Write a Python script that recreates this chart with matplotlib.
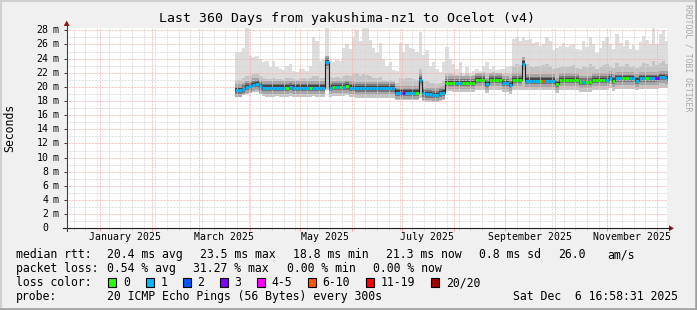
import numpy as np
import matplotlib
matplotlib.use('Agg')
import matplotlib.pyplot as plt
import matplotlib.dates as mdates
from matplotlib.ticker import MultipleLocator
from matplotlib.patches import Rectangle, Polygon
from matplotlib.lines import Line2D
from datetime import datetime

plt.rcParams['font.family'] = ['DejaVu Sans Mono']

W, H = 697, 310

# ---- data (2-day steps from 2025-03-23) ----
first_day = '2025-03-23'
step_days = 2

median_ms = [
    19.5, 19.5, 19.7, 20.0, 20.1, 20.3, 20.4, 20.1, 19.9, 19.9,
    19.9, 19.9, 19.9, 19.9, 19.9, 19.9, 20.0, 19.9, 19.9, 19.9,
    19.9, 19.9, 19.9, 19.9, 19.9, 19.9, 19.9, 23.5, 19.9, 20.0,
    20.0, 20.0, 20.0, 20.1, 19.9, 19.9, 19.8, 19.8, 19.8, 19.8,
    19.8, 19.8, 19.8, 19.8, 19.8, 19.8, 19.8, 19.8, 19.2, 19.2,
    19.2, 19.2, 19.2, 19.2, 19.2, 21.0, 19.1, 19.0, 19.0, 18.9,
    18.9, 19.1, 19.2, 20.6, 20.6, 20.6, 20.6, 20.6, 20.6, 20.6,
    20.6, 20.6, 21.0, 21.0, 21.0, 20.4, 21.0, 21.0, 21.0, 21.0,
    20.6, 20.6, 20.3, 21.0, 21.0, 21.0, 23.3, 20.9, 20.9, 20.9,
    20.9, 20.9, 20.9, 20.9, 20.9, 20.9, 20.4, 21.0, 21.0, 21.0,
    21.0, 21.0, 21.0, 20.7, 20.7, 20.7, 20.7, 21.0, 21.0, 21.0,
    21.0, 21.0, 21.3, 20.9, 21.2, 21.2, 21.2, 21.2, 21.2, 21.2,
    20.9, 21.2, 21.2, 21.2, 21.2, 21.2, 21.2, 21.4, 21.4, 21.3,
]

# lost pings out of 20
loss = [
    1, 1, 1, 1, 1, 1, 1, 1, 1, 1,
    1, 1, 1, 1, 1, 0, 1, 1, 1, 1,
    1, 1, 0, 1, 1, 1, 1, 1, 1, 0,
    1, 0, 1, 0, 1, 1, 1, 1, 1, 1,
    1, 1, 1, 1, 1, 1, 1, 1, 1, 1,
    3, 1, 1, 1, 0, 1, 1, 1, 1, 1,
    1, 1, 1, 0, 0, 0, 1, 1, 0, 0,
    0, 0, 0, 0, 0, 1, 0, 0, 0, 0,
    1, 1, 1, 0, 0, 0, 1, 1, 1, 1,
    1, 0, 6, 1, 1, 1, 0, 0, 0, 0,
    0, 0, 0, 0, 1, 0, 0, 0, 0, 0,
    0, 1, 1, 0, 1, 1, 0, 0, 1, 1,
    1, 1, 1, 0, 1, 1, 3, 1, 1, 1,
]

# fastest ping
low_ms = [
    18.7, 18.7, 18.9, 19.0, 19.1, 19.3, 19.3, 19.0, 18.7, 18.6,
    18.6, 18.6, 18.7, 18.6, 18.6, 18.6, 18.7, 18.6, 18.6, 18.6,
    18.6, 18.6, 18.6, 18.7, 18.6, 18.6, 18.6, 19.6, 18.6, 18.7,
    18.7, 18.7, 18.7, 18.8, 18.6, 18.6, 18.5, 18.5, 18.5, 18.5,
    18.5, 18.5, 18.5, 18.5, 18.5, 18.5, 18.5, 18.5, 18.1, 18.1,
    18.1, 18.1, 18.1, 18.1, 18.1, 18.5, 18.0, 17.9, 17.9, 17.8,
    17.8, 18.0, 18.1, 19.4, 19.4, 19.3, 19.3, 19.3, 19.3, 19.3,
    19.3, 19.3, 19.6, 19.6, 19.6, 19.2, 19.6, 19.6, 19.6, 19.6,
    19.3, 19.3, 19.0, 19.6, 19.6, 19.6, 19.6, 19.5, 19.5, 19.5,
    19.5, 19.5, 19.5, 19.5, 19.5, 19.5, 19.1, 19.6, 19.6, 19.6,
    19.6, 19.6, 19.6, 19.3, 19.3, 19.3, 19.3, 19.6, 19.6, 19.6,
    19.6, 19.6, 19.8, 19.4, 19.7, 19.7, 19.7, 19.7, 19.7, 19.7,
    19.5, 19.7, 19.7, 19.7, 19.7, 19.7, 19.7, 19.9, 19.9, 19.8,
]

# top of the medium smoke
mid_ms = [
    21.0, 21.0, 21.2, 21.5, 21.6, 21.8, 21.8, 21.5, 21.2, 21.1,
    21.1, 21.2, 21.1, 21.1, 21.0, 21.2, 21.3, 21.1, 21.0, 21.1,
    21.2, 21.1, 21.2, 21.6, 21.5, 21.2, 21.3, 24.2, 21.4, 21.3,
    21.4, 21.3, 21.6, 21.7, 21.5, 21.8, 21.9, 21.6, 21.8, 21.7,
    21.5, 21.3, 21.2, 21.4, 21.0, 20.9, 21.0, 20.9, 20.6, 21.2,
    21.1, 21.3, 21.2, 21.1, 21.0, 22.5, 20.8, 20.9, 20.6, 20.5,
    20.4, 20.6, 20.8, 22.0, 21.9, 21.8, 21.7, 21.9, 21.6, 21.8,
    21.6, 21.7, 22.0, 21.9, 22.1, 22.0, 22.0, 22.1, 21.9, 22.0,
    21.8, 21.9, 21.8, 23.0, 23.3, 23.1, 24.0, 23.2, 23.0, 22.8,
    22.9, 23.0, 23.1, 23.2, 22.9, 22.6, 22.7, 22.8, 23.0, 22.8,
    22.9, 23.1, 22.7, 22.6, 23.0, 22.8, 23.2, 23.0, 22.6, 22.8,
    23.1, 23.3, 23.0, 22.7, 23.4, 23.0, 22.9, 23.2, 22.8, 23.0,
    22.7, 23.0, 23.4, 23.2, 23.0, 23.6, 23.1, 23.4, 23.6, 23.2,
]

# slowest ping
high_ms = [
    24.9, 24.9, 25.5, 28.3, 24.4, 24.2, 24.4, 24.0, 23.5, 23.6,
    22.8, 23.7, 22.8, 22.6, 22.4, 23.0, 23.2, 22.3, 22.1, 22.5,
    22.6, 22.3, 23.0, 27.1, 26.5, 23.6, 24.0, 28.3, 24.0, 23.5,
    23.8, 23.6, 25.5, 26.0, 25.3, 27.0, 28.0, 26.5, 28.3, 28.3,
    26.6, 25.5, 24.8, 26.2, 24.0, 22.9, 23.5, 22.4, 22.3, 26.2,
    25.0, 26.0, 25.5, 25.3, 25.0, 27.8, 24.5, 25.2, 23.0, 23.5,
    22.5, 22.1, 23.5, 25.6, 24.0, 23.2, 22.5, 23.5, 22.0, 22.8,
    22.0, 22.3, 22.5, 22.2, 23.0, 23.5, 22.6, 22.9, 22.4, 22.6,
    22.5, 22.8, 23.0, 26.8, 27.1, 26.5, 27.0, 26.6, 26.8, 26.2,
    26.3, 25.8, 26.0, 27.0, 26.5, 25.2, 25.5, 25.8, 26.2, 25.6,
    25.9, 26.0, 25.3, 25.2, 26.5, 25.6, 27.0, 26.0, 24.8, 25.5,
    26.5, 27.0, 26.0, 25.4, 27.5, 26.2, 25.8, 26.6, 25.3, 25.9,
    25.2, 26.3, 27.2, 26.6, 26.0, 28.3, 26.0, 27.5, 28.0, 26.5,
]

loss_labels = ['0', '1', '2', '3', '4-5', '6-10', '11-19', '20/20']
loss_limits = [0, 1, 2, 3, 5, 10, 19, 20]
loss_colors = ['#26ff00', '#00b8ff', '#0059ff', '#7e00ff',
               '#ff00ff', '#ff5500', '#ff0000', '#a10000']

month_labels = ['January 2025', 'March 2025', 'May 2025',
                'July 2025', 'September 2025', 'November 2025']
label_months = [1, 3, 5, 7, 9, 11]
ytick_values = list(range(0, 29, 2))

rtt_stats = [('20.4', 'ms avg'), ('23.5', 'ms max'), ('18.8', 'ms min'),
             ('21.3', 'ms now'), ('0.8', 'ms sd')]
rtt_amps = '26.0'
loss_stats = [('0.54', '% avg'), ('31.27', '% max'), ('0.00', '% min'),
              ('0.00', '% now')]
probe_text = '20 ICMP Echo Pings (56 Bytes) every 300s'
stamp_text = 'Sat Dec  6 16:58:31 2025'
title = 'Last 360 Days from yakushima-nz1 to Ocelot (v4)'

t_start = datetime(2024, 12, 11, 16, 58, 31)
t_end = datetime(2025, 12, 6, 16, 58, 31)


def px(x, y):
    # pixel (from top-left) -> figure fraction
    return x / W, 1 - y / H


def ext(a):
    return np.append(a, a[-1])


med = np.array(median_ms)
n = len(med)
t = np.datetime64(first_day) + np.arange(n + 1) * np.timedelta64(step_days, 'D')

fig = plt.figure(figsize=(W / 100, H / 100), dpi=100)
fig.patch.set_facecolor('#f0f0f0')

ax_l, ax_r, ax_t, ax_b = 66.5, 666.5, 28.3, 228.3
ax = fig.add_axes([ax_l / W, 1 - ax_b / H, (ax_r - ax_l) / W, (ax_b - ax_t) / H])
ax.set_facecolor('white')
ax.set_xlim(t_start, t_end)
ax.set_ylim(0, 28.29)

# smoke, lighter away from the median
ax.fill_between(t, ext(low_ms), ext(high_ms), step='post', color='#dddddd', lw=0, zorder=1)
ax.fill_between(t, ext(low_ms), ext(mid_ms), step='post', color='#c4c4c4', lw=0, zorder=1.1)
ax.fill_between(t, ext(med - 0.9), ext(med + 0.9), step='post', color='#a6a6a6', lw=0, zorder=1.2)
ax.fill_between(t, ext(med - 0.5), ext(med + 0.55), step='post', color='#777777', lw=0, zorder=1.3)
ax.fill_between(t, ext(med - 0.25), ext(med + 0.3), step='post', color='#444444', lw=0, zorder=1.4)

# median line, coloured by loss
ax.step(t, ext(med), where='post', color='#202020', lw=0.8, zorder=3)
seg_cols = []
for l in loss:
    i = 0
    while loss_limits[i] < l:
        i += 1
    seg_cols.append(loss_colors[i])
ax.hlines(med, t[:-1], t[1:], colors=seg_cols, lw=2.0, zorder=3.1)

# grid
ax.xaxis.set_major_locator(mdates.MonthLocator())
ax.xaxis.set_minor_locator(mdates.WeekdayLocator(byweekday=mdates.MO))
ax.yaxis.set_major_locator(MultipleLocator(2))
ax.yaxis.set_minor_locator(MultipleLocator(1))
dots = (0, (0.72, 0.72))
ax.grid(which='minor', color='#d6d6d6', linestyle=dots, lw=0.72)
ax.grid(which='major', color='#f6b0b0', linestyle=dots, lw=0.72)
ax.set_axisbelow(False)
ax.tick_params(which='both', labelbottom=False, labelleft=False)
ax.tick_params(axis='x', which='major', length=2.2, color='#f2a0a0', width=0.72)
ax.tick_params(axis='x', which='minor', length=1.5, color='#c8c8c8', width=0.72)
ax.tick_params(axis='y', which='major', length=2.2, color='#404040', width=0.72)
ax.tick_params(axis='y', which='minor', length=0)
for s in ax.spines.values():
    s.set_visible(False)

# axes lines and arrows
fig.add_artist(Line2D([63 / W, 670 / W], [1 - 228.3 / H] * 2, color='#202020', lw=0.8))
fig.add_artist(Line2D([66.7 / W] * 2, [1 - 231 / H, 1 - 24 / H], color='#404040', lw=0.8))
fig.add_artist(Polygon([px(669, 225.3), px(669, 231.3), px(674, 228.3)],
                       closed=True, color='#8b1a1a', lw=0))
fig.add_artist(Polygon([px(63.7, 26), px(69.7, 26), px(66.7, 20.5)],
                       closed=True, color='#8b1a1a', lw=0))

# tick labels
fs_tick = 7.1
for v in ytick_values:
    ty = 1 - (ax_b - v * (ax_b - ax_t) / 28.29) / H
    fig.text(48.8 / W, ty, str(v), ha='right', va='center', fontsize=fs_tick)
    if v:
        fig.text(53.0 / W, ty, 'm', ha='left', va='center', fontsize=fs_tick)
for lab, m in zip(month_labels, label_months):
    ax.text(datetime(2025, m, 16), -0.018, lab, transform=ax.get_xaxis_transform(),
            ha='center', va='top', fontsize=fs_tick)

fig.text(*px(347, 18.5), title, ha='center', va='center', fontsize=9.5)
fig.text(*px(10, 128), 'Seconds', rotation=90, ha='center', va='center', fontsize=8.3)
fig.text(*px(688, 4.5), 'RRDTOOL / TOBI OETIKER', rotation=270, ha='center', va='top',
         fontsize=5.9, color='#a8a8a8')

# legend block
fs = 8.3
r1, r2, r3, r4 = 254.5, 268.5, 282.5, 296.5
fig.text(*px(16, r1), 'median rtt:', va='center', fontsize=fs)
for x0, (v, u) in zip([107, 200, 293, 386, 479], rtt_stats):
    fig.text(*px(x0, r1), v + ' ' + u, va='center', fontsize=fs)
fig.text(*px(558, r1), rtt_amps, va='center', fontsize=fs)
fig.text(*px(607, r1), 'am/s', va='center', fontsize=fs)

fig.text(*px(16, r2), 'packet loss:', va='center', fontsize=fs)
for x0, (v, u) in zip([107, 193, 287, 373], loss_stats):
    fig.text(*px(x0, r2), v + ' ' + u, va='center', fontsize=fs)

fig.text(*px(16, r3), 'loss color:', va='center', fontsize=fs)
box_x = [108, 145.5, 182.5, 219.5, 256.5, 307.5, 366, 431]
for bx, lab, c in zip(box_x, loss_labels, loss_colors):
    fig.add_artist(Rectangle(px(bx, r3 + 4.5), 8 / W, 9 / H, facecolor=c,
                             edgecolor='black', lw=0.8))
    fig.text(*px(bx + 15, r3), lab, va='center', fontsize=fs)

fig.text(*px(16, r4), 'probe:', va='center', fontsize=fs)
fig.text(*px(107, r4), probe_text, va='center', fontsize=fs)
fig.text(*px(513, r4), stamp_text, va='center', fontsize=fs)

# frame shading
fig.add_artist(Line2D([0, 1], [1 - 1 / H] * 2, color='#cfcfcf', lw=1.5))
fig.add_artist(Line2D([1 / W] * 2, [0, 1], color='#cfcfcf', lw=1.5))
fig.add_artist(Line2D([0, 1], [1.2 / H] * 2, color='#9e9e9e', lw=1.8))
fig.add_artist(Line2D([1 - 1.2 / W] * 2, [0, 1], color='#9e9e9e', lw=1.8))

fig.savefig('out.png', dpi=100, facecolor=fig.get_facecolor())
